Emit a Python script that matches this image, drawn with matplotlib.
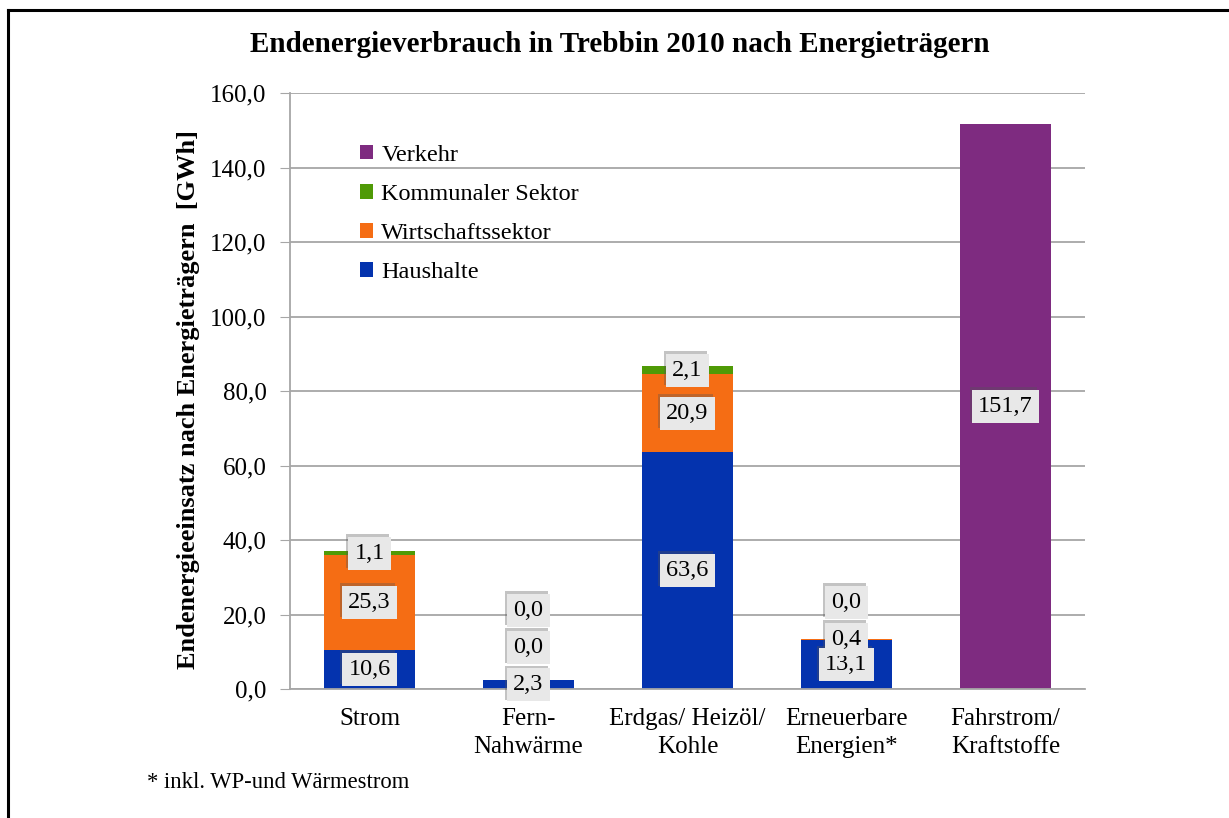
import numpy as np
import matplotlib
matplotlib.use("Agg")
from matplotlib import pyplot as plt
from matplotlib.lines import Line2D
from matplotlib.transforms import offset_copy
from matplotlib.ticker import FuncFormatter

categories = ["Strom", "Fern-\nNahwärme", "Erdgas/ Heizöl/\nKohle", "Erneuerbare\nEnergien*", "Fahrstrom/\nKraftstoffe"]
haushalte = [10.6, 2.3, 63.6, 13.1, np.nan]
wirtschaft = [25.3, 0.0, 20.9, 0.4, np.nan]
kommunal = [1.1, 0.0, 2.1, 0.0, np.nan]
verkehr = [np.nan, np.nan, np.nan, np.nan, 151.7]

series = [
    ("Haushalte", haushalte, "#0433AE"),
    ("Wirtschaftssektor", wirtschaft, "#F56D14"),
    ("Kommunaler Sektor", kommunal, "#4F9A06"),
    ("Verkehr", verkehr, "#7E2B80"),
]

plt.rcParams["font.family"] = ["Liberation Serif", "DejaVu Serif"]

fig = plt.figure(figsize=(12.29, 8.18), dpi=100)
ax = fig.add_axes([290 / 1229, 1 - 689 / 818, 795 / 1229, 596 / 818])

x = np.arange(len(categories))
bottom = np.zeros(len(categories))
label_pos = [[] for _ in categories]
for name, vals, color in series:
    v = np.nan_to_num(np.array(vals, dtype=float))
    ax.bar(x, v, 0.57, bottom=bottom, color=color, label=name, zorder=2)
    for i, val in enumerate(vals):
        if np.isnan(val):
            continue
        y = bottom[i] + val / 2
        # push labels of tiny segments up so they don't sit on top of each other
        if label_pos[i] and y - label_pos[i][-1] < 5:
            y = label_pos[i][-1] + 10
        label_pos[i].append(y)
        txt = f"{val:.1f}".replace(".", ",")
        shadow = offset_copy(ax.transData, fig=fig, x=-2, y=2, units="dots")
        ax.text(i, y, txt, transform=shadow, ha="center", va="center", fontsize=17.5,
                color="none", zorder=3,
                bbox=dict(boxstyle="square,pad=0.27", fc="#555555", ec="none", alpha=0.35))
        ax.text(i, y, txt, ha="center", va="center", fontsize=17.5, zorder=4,
                bbox=dict(boxstyle="square,pad=0.25", fc="#E8E8E8", ec="none"))
    bottom += v

ax.set_xlim(-0.5, 4.5)
ax.set_ylim(0, 160)
ax.set_yticks(np.arange(0, 161, 20))
ax.yaxis.set_major_formatter(FuncFormatter(lambda v, p: f"{v:.1f}".replace(".", ",")))
ax.grid(axis="y", color="#A6A6A6", linewidth=1.3, zorder=0)
ax.set_xticks(x)
ax.set_xticklabels(categories, fontsize=18, linespacing=1.35)
ax.tick_params(axis="x", length=0, pad=14)
ax.tick_params(axis="y", labelsize=18, length=7, color="#A6A6A6", pad=10)
for s in ["top", "right"]:
    ax.spines[s].set_visible(False)
for s in ["left", "bottom"]:
    ax.spines[s].set_color("#A6A6A6")
    ax.spines[s].set_linewidth(1.3)

ax.set_ylabel("Endenergieeinsatz nach Energieträgern  [GWh]", fontsize=19,
              fontweight="bold")
ax.yaxis.set_label_coords(-0.113, 0.485)

handles, labels = ax.get_legend_handles_labels()
ax.legend(handles[::-1], labels[::-1], loc="upper left", bbox_to_anchor=(0.06, 0.95),
          frameon=False, fontsize=17.5, handlelength=0.55, handleheight=0.55,
          handletextpad=0.35, labelspacing=0.75)

fig.text(620 / 1229, 1 - 45 / 818, "Endenergieverbrauch in Trebbin 2010 nach Energieträgern",
         ha="center", va="center", fontsize=21, fontweight="bold")
fig.text(147 / 1229, 1 - 783 / 818, "* inkl. WP-und Wärmestrom", ha="left", va="center",
         fontsize=16.3)

# frame of the original chart area
fig.add_artist(Line2D([8 / 1229, 1.0], [1 - 10 / 818, 1 - 10 / 818], color="black", linewidth=2.2))
fig.add_artist(Line2D([8 / 1229, 8 / 1229], [0.0, 1 - 10 / 818], color="black", linewidth=2.2))

fig.savefig("out.png", dpi=100)
